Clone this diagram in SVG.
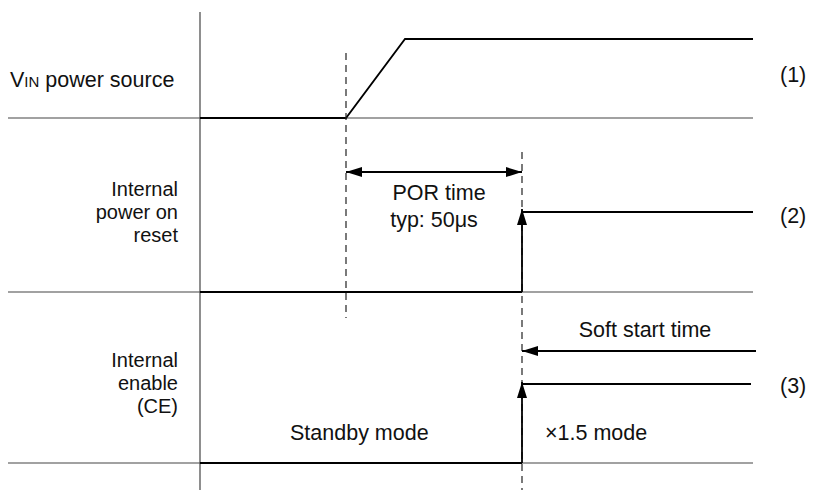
<svg xmlns="http://www.w3.org/2000/svg" width="821" height="490" viewBox="0 0 821 490">
<style>
text{font-family:"Liberation Sans",Arial,sans-serif;font-size:21.5px;fill:#111}
text.lbl{font-size:20px}
.ref{stroke:#444;stroke-width:1.2;fill:none}
.sig{stroke:#000;stroke-width:1.8;fill:none}
.dash{stroke:#222;stroke-width:1.2;stroke-dasharray:7 5;fill:none}
.r{text-anchor:end}
.m{text-anchor:middle}
</style>
<defs>
<marker id="ah" viewBox="0 0 16 10" refX="16" refY="5" markerWidth="16" markerHeight="10" markerUnits="userSpaceOnUse" orient="auto">
<path d="M0,0 L16,5 L0,10 Z" fill="#000"/>
</marker>
</defs>
<g id="axes">
<line class="ref" x1="200" y1="12" x2="200" y2="490"/>
<line class="ref" x1="8" y1="118" x2="753" y2="118"/>
<line class="ref" x1="8" y1="292" x2="753" y2="292"/>
<line class="ref" x1="8" y1="463" x2="753" y2="463"/>
</g>
<g id="vin">
<text x="10" y="87">V<tspan font-size="15">IN</tspan> power source</text>
<polyline class="sig" points="200,118 346,118 405,39 753,39"/>
<text x="780" y="82">(1)</text>
</g>
<g id="por">
<text class="r lbl" x="178" y="196">Internal</text>
<text class="r lbl" x="178" y="219">power on</text>
<text class="r lbl" x="178" y="242">reset</text>
<line class="sig" x1="200" y1="292" x2="522" y2="292"/>
<line class="sig" x1="522" y1="212" x2="753" y2="212"/>
<text class="m" x="439" y="200">POR time</text>
<text class="m" x="434" y="227">typ: 50μs</text>
<text x="780" y="223">(2)</text>
</g>
<g id="ce">
<text class="r lbl" x="178" y="367">Internal</text>
<text class="r lbl" x="178" y="390">enable</text>
<text class="r lbl" x="178" y="413">(CE)</text>
<line class="sig" x1="200" y1="463" x2="522" y2="463"/>
<line class="sig" x1="522" y1="384" x2="751" y2="384"/>
<text x="290" y="440">Standby mode</text>
<text x="545" y="440">×1.5 mode</text>
<text class="m" x="645" y="337">Soft start time</text>
<text x="780" y="393">(3)</text>
</g>
<g id="connectors">
<line class="dash" x1="346" y1="53" x2="346" y2="318"/>
<line class="dash" x1="522" y1="152" x2="522" y2="490"/>
<line class="sig" x1="434" y1="172" x2="346" y2="172" marker-end="url(#ah)" stroke-width="1.4"/>
<line class="sig" x1="434" y1="172" x2="522" y2="172" marker-end="url(#ah)" stroke-width="1.4"/>
<line class="sig" x1="522" y1="292" x2="522" y2="209" marker-end="url(#ah)"/>
<line class="sig" x1="522" y1="463" x2="522" y2="382" marker-end="url(#ah)"/>
<line class="sig" x1="756" y1="351" x2="522" y2="351" marker-end="url(#ah)" stroke-width="1.4"/>
</g>
</svg>
